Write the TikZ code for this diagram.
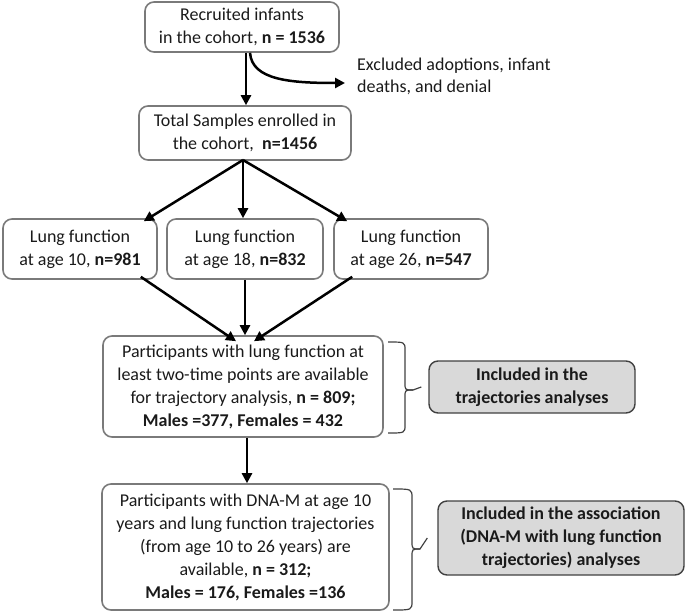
\documentclass[tikz,border=0pt]{standalone}
\usepackage{fontspec}
\setmainfont{Carlito}
\usetikzlibrary{arrows.meta,calc}
\definecolor{boxline}{HTML}{7A7A7A}
\definecolor{txt}{HTML}{1A1A1A}
\definecolor{grayfill}{HTML}{D9D9D9}
\definecolor{grayline}{HTML}{404040}
\tikzset{
  flowbox/.style={draw=boxline, line width=1.6pt, rounded corners=9pt, align=center, inner sep=0pt,
    font=\fontsize{18}{23}\selectfont, text=txt},
  notebox/.style={draw=grayline, line width=1.4pt, rounded corners=9pt, fill=grayfill, align=center, inner sep=0pt,
    font=\fontsize{18}{23}\selectfont\bfseries, text=txt},
  arr/.style={line width=2.5pt, -{Triangle[length=10pt,width=10pt]}, black},
  bracestyle/.style={draw=grayline, line width=1.2pt},
}
\begin{document}
\begin{tikzpicture}[x=1pt,y=-1pt]
\useasboundingbox (0,0) rectangle (685,613);
\node[flowbox, minimum width=194pt, minimum height=50pt] (b1) at (242,27) {Recruited infants\\ in the cohort, \textbf{n = 1536}};
\node[flowbox, minimum width=212pt, minimum height=54pt] (b2) at (245,133) {Total Samples enrolled in\\ the cohort,\ \ \textbf{n=1456}};
\node[flowbox, minimum width=154pt, minimum height=60pt] (l1) at (80,249) {Lung function\\ at age 10, \textbf{n=981}};
\node[flowbox, minimum width=156pt, minimum height=60pt] (l2) at (245,249) {Lung function\\ at age 18, \textbf{n=832}};
\node[flowbox, minimum width=154pt, minimum height=60pt] (l3) at (411,249) {Lung function\\ at age 26, \textbf{n=547}};
\node[flowbox, minimum width=280pt, minimum height=101pt] (p) at (243,386.5) {Participants with lung function at\\ least two-time points are available\\ for trajectory analysis, \textbf{n = 809;}\\ \textbf{Males =377, Females = 432}};
\node[flowbox, minimum width=287pt, minimum height=126pt] (q) at (245.5,547) {Participants with DNA-M at age 10\\ years and lung function trajectories\\ (from age 10 to 26 years) are\\ available, \textbf{n = 312;}\\ \textbf{Males = 176, Females =136}};
\node[notebox, minimum width=206pt, minimum height=52pt] (g1) at (532,387) {Included in the\\ trajectories analyses};
\node[notebox, minimum width=246pt, minimum height=74pt] (g2) at (561,538) {Included in the association\\ (DNA-M with lung function\\ trajectories) analyses};
\node[anchor=west, align=left, inner sep=0pt, font=\fontsize{18}{22}\selectfont, text=txt] (ex) at (357,76) {Excluded adoptions, infant\\ deaths, and denial};
% connectors
\draw[arr] ([xshift=4pt]b1.south) -- ([xshift=1pt]b2.north);
\draw[arr] ([xshift=8pt]b1.south) .. controls (252,80) and (290,83) .. ([xshift=-12pt]ex.west |- 0,83);
\coordinate (split) at (243,160);
\draw[arr] (split) -- ([xshift=-14pt,yshift=-3pt]l1.north east);
\draw[arr] (split) -- ([xshift=-2pt]l2.north);
\draw[arr] (split) -- ([xshift=14pt,yshift=-3pt]l3.north west);
\draw[arr] ([xshift=-17pt,yshift=3pt]l1.south east) -- ([xshift=-7pt,yshift=-6pt]p.north);
\draw[arr] (l2.south) -- ([xshift=2pt]p.north);
\draw[arr] ([xshift=19pt,yshift=3pt]l3.south west) -- ([xshift=11pt,yshift=-6pt]p.north);
\draw[arr] ([xshift=4pt]p.south) -- ([xshift=1.5pt]q.north);
% braces
\draw[bracestyle] (388,342) .. controls (405,342) .. (405,350) -- (405,383) .. controls (405,390) .. (413,390) -- ([xshift=-7pt]g1.west);
\draw[bracestyle] (413,390) .. controls (405,390) .. (405,397) -- (405,425) .. controls (405,433) .. (388,433);
\draw[bracestyle] (393,489) .. controls (412,489) .. (412,498) -- (412,541) .. controls (412,549) .. (420,549) -- ([xshift=-10pt]g2.west);
\draw[bracestyle] (420,549) .. controls (412,549) .. (412,557) -- (412,601) .. controls (412,610) .. (393,610);
\end{tikzpicture}
\end{document}
